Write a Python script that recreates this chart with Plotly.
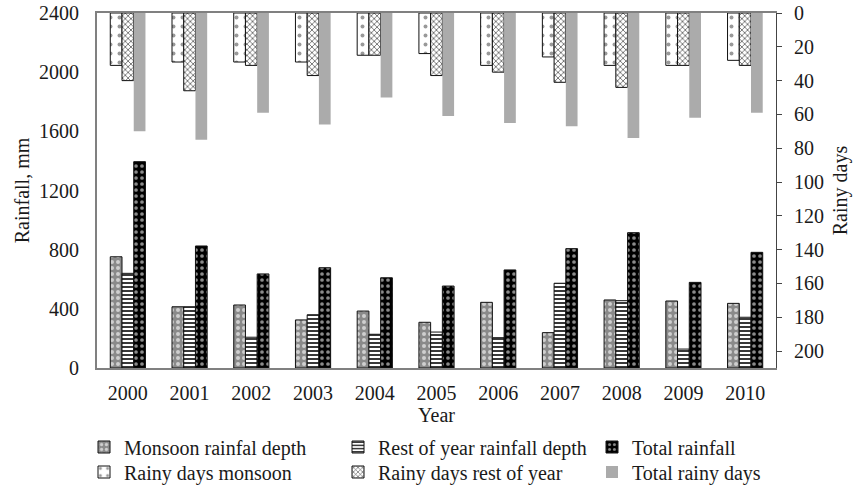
import plotly.graph_objects as go

years = ["2000", "2001", "2002", "2003", "2004", "2005", "2006", "2007", "2008", "2009", "2010"]

monsoon_rain = [752, 414, 426, 325, 385, 309, 444, 239, 460, 453, 437]
rest_rain = [640, 414, 208, 360, 228, 243, 205, 573, 455, 128, 343]
total_rain = [1395, 825, 636, 678, 610, 554, 663, 807, 915, 579, 782]

monsoon_days = [31, 29, 29, 29, 25, 24, 31, 26, 31, 31, 28]
rest_days = [40, 46, 31, 37, 25, 37, 35, 41, 44, 31, 31]
total_days = [70, 75, 59, 66, 50, 61, 65, 67, 74, 62, 59]

FONT = "Liberation Serif"
TXT = "#1a1a1a"
FS = 20
W = 0.19
OFF = [-0.285, -0.095, 0.095]

fig = go.Figure()

def bar(name, y, yaxis, off, bg, fg, shape, size, solidity, line=1, lc="#111", legend="legend"):
    m = dict(color=bg, line=dict(color=lc, width=line))
    if shape:
        m["pattern"] = dict(shape=shape, bgcolor=bg, fgcolor=fg, size=size,
                            solidity=solidity, fillmode="replace")
    fig.add_trace(go.Bar(name=name, x=years, y=y, yaxis=yaxis, width=W, offset=off,
                         marker=m, legend=legend))

bar("Monsoon rainfal depth", monsoon_rain, "y", OFF[0], "#8a8a8a", "#cfcfcf", ".", 6, 0.35)
bar("Rest of year rainfall depth", rest_rain, "y", OFF[1], "#ffffff", "#222222", "-", 4, 0.45)
bar("Total rainfall", total_rain, "y", OFF[2], "#000000", "#8a8a8a", ".", 6, 0.3)
bar("Rainy days monsoon", monsoon_days, "y2", OFF[0], "#ffffff", "#999999", ".", 9, 0.15, legend="legend2")
bar("Rainy days rest of year", rest_days, "y2", OFF[1], "#ffffff", "#555555", "x", 4, 0.35, legend="legend2")
bar("Total rainy days", total_days, "y2", OFF[2], "#ababab", None, None, 0, 0, line=0, lc="#ababab", legend="legend2")

tf = dict(family=FONT, size=FS, color=TXT)
leg = dict(orientation="h", xref="paper", yref="paper", xanchor="left", yanchor="middle",
           font=tf, entrywidth=209, entrywidthmode="pixels",
           bgcolor="rgba(0,0,0,0)", itemwidth=30, tracegroupgap=0)

fig.update_layout(
    width=853, height=488,
    margin=dict(l=97, r=77, t=13, b=120, autoexpand=False),
    paper_bgcolor="white", plot_bgcolor="white",
    font=tf,
    barmode="overlay",
    xaxis=dict(type="category", range=[-0.5, 10.5], showline=True, mirror=True, automargin=False,
               linecolor="#808080", linewidth=2, ticks="", ticklabelstandoff=6,
               title=dict(text="Year", font=tf, standoff=4), tickfont=tf),
    yaxis=dict(range=[0, 2400], dtick=400, showgrid=False, zeroline=False, showline=True, automargin=False,
               linecolor="#808080", linewidth=2, ticks="", ticklabelstandoff=12, tickfont=tf,
               ticklabeloverflow="allow",
               title=dict(text="Rainfall, mm", font=tf, standoff=4)),
    yaxis2=dict(range=[210, 0], overlaying="y", side="right", tickvals=list(range(0, 201, 20)),
                showgrid=False, zeroline=False, showline=True, automargin=False,
                linecolor="#444444", linewidth=1, ticklabeloverflow="allow",
                ticks="outside", ticklen=5, tickcolor="#444444", ticklabelstandoff=8, tickfont=tf,
                title=dict(text="Rainy days", font=tf, standoff=9)),
    legend=dict(leg, x=-13 / 679, y=(368 - 447) / 355),
    legend2=dict(leg, x=-13 / 679, y=(368 - 472) / 355),
)

fig.write_html("out.html", config={"displayModeBar": False},
               post_script="document.body.style.margin='0';")
